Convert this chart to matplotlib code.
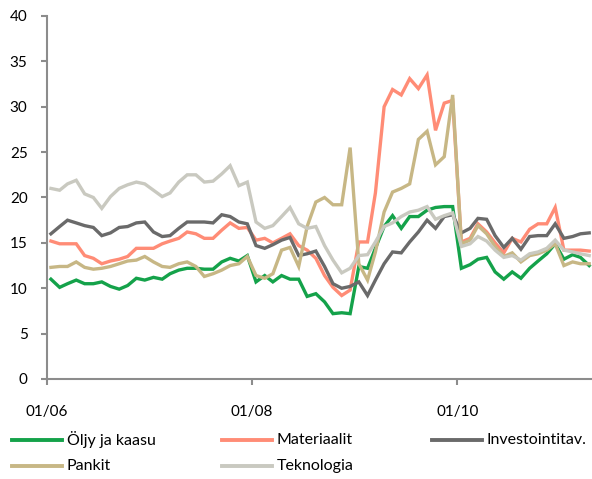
import numpy as np
import pandas as pd
import matplotlib
matplotlib.use("Agg")
import matplotlib.pyplot as plt
import matplotlib.dates as mdates
from matplotlib.lines import Line2D

# monthly observations, plotted mid-month
MONTHS = pd.date_range("2006-01-01", periods=64, freq="MS") + pd.Timedelta(days=14)

OLJY = [11.0, 10.1, 10.5, 10.9, 10.5, 10.5, 10.7, 10.2, 9.9, 10.3, 11.1, 10.9,
        11.2, 11.0, 11.6, 12.0, 12.2, 12.2, 12.1, 12.1, 12.9, 13.3, 13.0, 13.6,
        10.7, 11.4, 10.7, 11.4, 11.0, 11.0, 9.1, 9.4, 8.5, 7.2, 7.3, 7.2,
        12.4, 12.2, 14.4, 16.8, 18.0, 16.6, 17.9, 17.9, 18.6, 18.9, 19.0, 19.0,
        12.2, 12.6, 13.2, 13.4, 11.8, 11.0, 11.8, 11.1, 12.2, 13.0, 13.8, 14.9,
        13.2, 13.7, 13.4, 12.5]
MATERIAALIT = [15.2, 14.9, 14.9, 14.9, 13.6, 13.3, 12.7, 13.0, 13.2, 13.5, 14.4, 14.4,
               14.4, 14.9, 15.2, 15.5, 16.2, 16.0, 15.5, 15.5, 16.4, 17.2, 16.6, 16.7,
               15.3, 15.5, 15.0, 15.5, 16.0, 14.7, 14.2, 13.3, 11.4, 10.1, 9.2, 9.8,
               15.1, 15.1, 20.5, 30.0, 31.9, 31.3, 33.1, 32.0, 33.5, 27.4, 30.4, 30.7,
               15.1, 15.5, 17.1, 16.2, 15.0, 13.9, 15.5, 15.1, 16.5, 17.1, 17.1, 18.9,
               14.2, 14.2, 14.2, 14.1]
INVESTOINTI = [16.0, 16.8, 17.5, 17.2, 16.9, 16.7, 15.8, 16.1, 16.7, 16.8, 17.2, 17.3,
               16.2, 15.7, 15.8, 16.6, 17.3, 17.3, 17.3, 17.2, 18.1, 17.9, 17.3, 17.1,
               14.7, 14.4, 14.8, 15.3, 15.6, 13.6, 13.8, 14.1, 12.4, 10.5, 10.0, 10.2,
               10.7, 9.2, 10.9, 12.7, 14.0, 13.9, 15.1, 16.2, 17.5, 16.6, 17.9, 18.1,
               16.1, 16.6, 17.7, 17.6, 15.8, 14.5, 15.5, 14.3, 15.7, 15.8, 15.8, 17.1,
               15.5, 15.7, 16.0, 16.1]
PANKIT = [12.3, 12.4, 12.4, 12.9, 12.3, 12.1, 12.2, 12.4, 12.7, 13.0, 13.1, 13.5,
          12.9, 12.4, 12.3, 12.7, 12.9, 12.4, 11.3, 11.6, 12.0, 12.5, 12.7, 13.5,
          11.4, 11.1, 11.6, 14.2, 14.5, 12.4, 16.8, 19.5, 20.0, 19.2, 19.2, 25.5,
          12.7, 10.9, 14.0, 18.4, 20.6, 21.0, 21.5, 26.4, 27.3, 23.6, 24.5, 31.3,
          14.9, 15.3, 16.9, 16.0, 14.6, 13.5, 13.9, 12.9, 13.6, 13.8, 14.2, 14.9,
          12.5, 12.9, 12.7, 12.7]
TEKNOLOGIA = [21.0, 20.8, 21.5, 21.9, 20.4, 20.0, 18.8, 20.1, 21.0, 21.4, 21.7, 21.5,
              20.8, 20.1, 20.5, 21.7, 22.5, 22.5, 21.7, 21.8, 22.6, 23.5, 21.3, 21.7,
              17.3, 16.6, 16.9, 17.9, 18.9, 17.1, 16.6, 16.8, 14.7, 13.1, 11.7, 12.2,
              13.6, 13.7, 15.1, 16.8, 17.2, 17.9, 18.4, 18.6, 19.0, 17.6, 18.0, 18.3,
              14.6, 14.9, 15.7, 15.2, 14.2, 13.4, 13.6, 13.1, 13.8, 14.0, 14.4, 15.3,
              14.2, 14.0, 13.8, 13.6]

NAMES = ["Öljy ja kaasu", "Materiaalit", "Investointitav.", "Pankit", "Teknologia"]
COLORS = ["#14A24A", "#FF8C76", "#6A6A6A", "#C7B785", "#C9C9C0"]

plt.rcParams["font.family"] = ["Lato", "DejaVu Sans"]

AXIS_GRAY = "#8C8C8C"
W, H = 592, 479


def main():
    fig = plt.figure(figsize=(W / 100, H / 100), dpi=100)
    ax = fig.add_axes([47 / W, 100 / H, 545 / W, 363 / H])

    for name, vals, col in zip(NAMES, [OLJY, MATERIAALIT, INVESTOINTI, PANKIT, TEKNOLOGIA], COLORS):
        ax.plot(MONTHS, vals, color=col, lw=2.4, solid_joinstyle="miter")

    ax.set_ylim(0, 40)
    ax.set_yticks(np.arange(0, 41, 5))
    ax.set_xlim(pd.Timestamp("2006-01-01"), pd.Timestamp("2011-04-25"))
    ax.set_xticks([pd.Timestamp("2006-01-01"), pd.Timestamp("2008-01-01"), pd.Timestamp("2010-01-01")])
    ax.xaxis.set_major_formatter(mdates.DateFormatter("%m/%y"))

    for side in ["top", "right"]:
        ax.spines[side].set_visible(False)
    for side in ["left", "bottom"]:
        ax.spines[side].set_color(AXIS_GRAY)
        ax.spines[side].set_linewidth(1.5)
    ax.tick_params(axis="y", direction="out", length=4, width=1.5, color=AXIS_GRAY,
                   pad=10, labelsize=11)
    ax.tick_params(axis="x", direction="out", length=4, width=1.5, color=AXIS_GRAY,
                   pad=15, labelsize=11)

    # legend drawn by hand in pixel positions so the three columns line up like the original
    slots = [(12, 440), (222, 440), (432, 440), (12, 466), (222, 466)]
    for name, col, (px, py) in zip(NAMES, COLORS, slots):
        y = 1 - py / H
        fig.add_artist(Line2D([px / W, (px + 50) / W], [y, y], color=col, lw=2.8,
                              transform=fig.transFigure))
        fig.text((px + 55) / W, y, name, fontsize=11.5, va="center", ha="left")

    fig.savefig("out.png", dpi=100)


if __name__ == "__main__":
    main()
